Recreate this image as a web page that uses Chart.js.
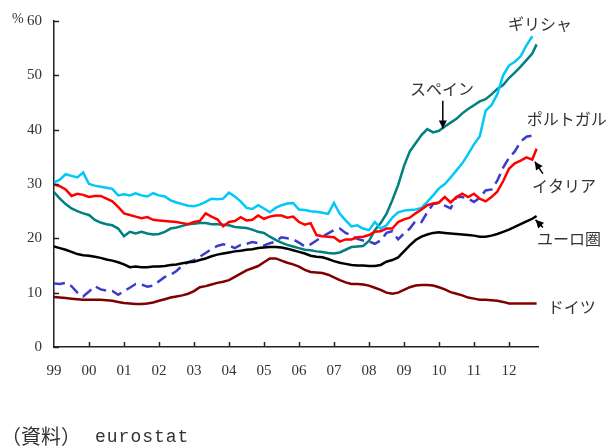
<!DOCTYPE html>
<html><head><meta charset="utf-8">
<script src="https://cdn.jsdelivr.net/npm/chart.js@4.4.1/dist/chart.umd.min.js"></script>
<style>html,body{margin:0;padding:0;background:#fff;}</style>
</head><body>
<canvas id="c" width="609" height="448"></canvas>
<script>
// time axis: every two months from Jan 1999, last observation autumn 2012
const periods = [];
for (let k = 0; k < 83; k++) periods.push(1999 + k / 6);
periods.push(2012.79);

const yearTicks = [1999,2000,2001,2002,2003,2004,2005,2006,2007,2008,2009,2010,2011,2012];
const yearLabels = ['99','00','01','02','03','04','05','06','07','08','09','10','11','12'];
const yTicks = [0,10,20,30,40,50,60];

const greece = [30.3,30.8,31.8,31.5,31.2,32.1,30.0,29.7,29.5,29.3,29.1,27.9,
  28.1,27.9,28.3,27.9,27.7,28.3,27.9,27.7,27.0,26.6,26.3,26.0,
  25.9,26.2,26.7,27.3,27.2,27.3,28.4,27.7,26.8,25.6,25.4,26.1,
  25.5,24.8,25.6,26.1,26.4,26.5,25.3,25.2,25.0,24.9,24.7,24.5,
  26.5,24.5,23.3,22.2,22.4,21.8,21.5,23.0,21.8,22.4,23.8,24.8,
  25.1,25.2,25.3,25.6,26.7,27.9,29.2,30.0,31.2,32.5,33.8,35.5,
  37.3,38.8,43.5,44.5,46.5,50.0,51.8,52.5,53.5,55.5,57.2,null];
const spain = [28.5,27.3,26.3,25.5,25.0,24.6,24.3,23.4,22.9,22.6,22.4,21.8,
  20.4,21.2,20.9,21.2,20.9,20.7,20.8,21.2,21.8,22.0,22.3,22.6,
  22.7,22.8,22.8,22.6,22.6,22.5,22.4,22.1,22.0,21.9,21.6,21.2,
  21.0,20.3,19.7,19.2,18.8,18.5,18.2,17.9,17.8,17.6,17.5,17.3,
  17.2,17.4,17.9,18.4,18.5,18.6,19.5,21.5,22.8,24.5,27.0,29.8,
  33.3,36.0,37.5,39.0,40.1,39.5,39.8,40.6,41.3,42.0,43.0,43.8,
  44.5,45.2,45.6,46.5,47.5,48.2,49.5,50.5,51.6,52.8,54.0,55.7];
const italy = [29.9,29.6,29.0,27.8,28.2,28.0,27.6,27.8,27.8,27.3,26.8,25.8,
  24.6,24.3,24.0,23.7,23.9,23.4,23.3,23.2,23.1,23.0,22.8,22.6,
  23.0,23.2,24.6,24.0,23.5,22.2,23.0,23.2,23.9,23.3,23.4,24.2,
  23.6,24.0,24.2,24.2,23.8,24.0,23.0,22.5,22.8,20.6,20.4,20.3,
  20.2,19.4,19.8,19.8,20.2,20.3,20.6,21.2,21.3,21.8,21.8,23.0,
  23.5,23.8,24.6,25.3,26.1,26.4,26.6,27.6,26.6,27.6,28.2,27.6,
  28.2,27.3,26.8,27.6,28.6,30.5,32.8,33.8,34.3,34.9,34.5,36.5];
const portugal = [11.7,11.6,11.8,11.2,10.0,9.3,10.2,11.2,10.6,10.4,10.3,9.6,
  10.3,10.9,11.6,11.5,11.1,11.3,12.1,12.9,13.3,14.0,15.0,15.6,
  16.0,16.6,17.3,18.0,18.6,18.9,18.7,18.2,18.8,19.0,19.3,19.1,
  18.7,19.1,19.4,20.2,20.0,19.8,19.2,18.5,18.9,19.6,20.3,20.9,
  21.5,21.8,21.0,20.5,19.9,19.6,19.4,19.0,19.6,21.0,21.3,19.8,
  20.9,21.8,23.2,23.0,24.8,26.3,26.5,26.0,25.5,27.6,27.6,27.3,
  26.7,27.5,28.8,29.0,30.6,33.0,34.8,36.0,37.8,38.7,38.9,38.9];
const euroArea = [18.5,18.2,17.9,17.5,17.1,16.9,16.8,16.6,16.4,16.1,15.9,15.6,
  15.2,14.7,14.8,14.7,14.7,14.8,14.8,14.9,15.1,15.2,15.4,15.6,
  15.7,16.0,16.3,16.7,17.0,17.2,17.4,17.6,17.7,17.9,18.0,18.2,
  18.3,18.4,18.4,18.3,18.1,17.8,17.5,17.2,16.8,16.6,16.5,16.2,
  15.8,15.5,15.3,15.1,15.0,15.0,14.9,14.9,15.1,15.7,16.0,16.5,
  17.6,18.7,19.7,20.3,20.7,21.0,21.1,21.0,20.9,20.8,20.7,20.6,
  20.5,20.3,20.3,20.5,20.8,21.2,21.6,22.1,22.6,23.1,23.6,24.1];
const germany = [9.2,9.1,9.0,8.9,8.8,8.7,8.7,8.7,8.7,8.6,8.5,8.3,
  8.1,8.0,7.9,7.9,8.0,8.2,8.5,8.8,9.1,9.3,9.5,9.8,
  10.3,11.0,11.2,11.5,11.8,12.0,12.3,12.9,13.5,14.1,14.5,14.9,
  15.6,16.3,16.3,15.9,15.5,15.2,14.8,14.2,13.8,13.7,13.6,13.3,
  12.8,12.3,11.9,11.6,11.6,11.5,11.3,10.9,10.5,10.0,9.8,10.0,
  10.5,11.0,11.3,11.4,11.4,11.3,11.0,10.6,10.1,9.8,9.5,9.1,
  8.9,8.7,8.7,8.6,8.5,8.3,8.0,8.0,8.0,8.0,8.0,8.0];

const toXY = arr => periods.map((t, i) => ({x: t, y: arr[i]}));

const labelFont = '"Noto Sans CJK JP", sans-serif';
const numFont = '"Liberation Serif", "DejaVu Serif", serif';

const annotations = {
  id: 'annotations',
  afterDraw(chart) {
    const {ctx, chartArea} = chart;
    const xs = chart.scales.x, ys = chart.scales.y;
    const X = v => xs.getPixelForValue(v), Y = v => ys.getPixelForValue(v);
    ctx.save();
    // tick marks (inside)
    ctx.strokeStyle = '#222'; ctx.lineWidth = 1.5;
    yTicks.forEach(v => { const py = Math.round(Y(v)) + 0.5; ctx.beginPath(); ctx.moveTo(chartArea.left, py); ctx.lineTo(chartArea.left + 5, py); ctx.stroke(); });
    yearTicks.forEach(v => { if (v === 1999) return; const px = Math.round(X(v)) + 0.5; ctx.beginPath(); ctx.moveTo(px, chartArea.bottom); ctx.lineTo(px, chartArea.bottom - 5); ctx.stroke(); });
    // percent sign
    ctx.fillStyle = '#333';
    ctx.font = '14px ' + numFont;
    ctx.textBaseline = 'middle'; ctx.textAlign = 'left';
    ctx.fillText('%', 12, Y(60) - 2);
    // series labels
    ctx.font = '16px ' + labelFont;
    ctx.fillStyle = '#333';
    ctx.fillText('ギリシャ', X(2011.97), Y(59.4));
    ctx.fillText('スペイン', X(2009.17), Y(47.5));
    ctx.fillText('ポルトガル', X(2012.51), Y(42.0));
    ctx.fillText('イタリア', X(2012.66), Y(29.7));
    ctx.fillText('ユーロ圏', X(2012.80), Y(19.8));
    ctx.fillText('ドイツ', X(2013.11), Y(7.3));
    // arrows
    const arrow = (x1, y1, x2, y2) => {
      ctx.strokeStyle = '#000'; ctx.fillStyle = '#000'; ctx.lineWidth = 1.5;
      ctx.beginPath(); ctx.moveTo(x1, y1); ctx.lineTo(x2, y2); ctx.stroke();
      const a = Math.atan2(y2 - y1, x2 - x1), L = 8, W = 4;
      ctx.beginPath();
      ctx.moveTo(x2, y2);
      ctx.lineTo(x2 - L * Math.cos(a) + W * Math.sin(a), y2 - L * Math.sin(a) - W * Math.cos(a));
      ctx.lineTo(x2 - L * Math.cos(a) - W * Math.sin(a), y2 - L * Math.sin(a) + W * Math.cos(a));
      ctx.closePath(); ctx.fill();
    };
    arrow(X(2010.11), Y(45.3), X(2010.11), Y(40.2));
    arrow(X(2012.97), Y(31.9), X(2012.74), Y(34.1));
    arrow(X(2012.97), Y(22.0), X(2012.76), Y(23.4));
    // source
    ctx.fillStyle = '#333';
    ctx.font = '20px ' + labelFont;
    ctx.textAlign = 'left'; ctx.textBaseline = 'middle';
    ctx.fillText('（資料）', 1, 436);
    ctx.font = '18px "Liberation Mono", monospace';
    ctx.letterSpacing = '1px';
    ctx.fillText('eurostat', 95, 437);
    ctx.restore();
  }
};

const ds = (label, arr, color, extra) => Object.assign({
  label, data: toXY(arr), borderColor: color, backgroundColor: color,
  borderWidth: 2.5, pointRadius: 0, tension: 0, fill: false, spanGaps: false
}, extra || {});

new Chart(document.getElementById('c'), {
  type: 'line',
  data: {
    datasets: [
      ds('ユーロ圏', euroArea, '#000000'),
      ds('イタリア', italy, '#ff0000'),
      ds('ギリシャ', greece, '#00c8f8'),
      ds('スペイン', spain, '#008080'),
      ds('ポルトガル', portugal, '#3c3ccc', {borderDash: [11, 6]}),
      ds('ドイツ', germany, '#800000')
    ]
  },
  options: {
    responsive: false,
    animation: false,
    devicePixelRatio: 1,
    layout: {padding: {top: 20, right: 71, left: 0, bottom: 0}},
    plugins: {legend: {display: false}, tooltip: {enabled: false}},
    scales: {
      x: {
        type: 'linear', min: 1999, max: 2012.83,
        grid: {display: false, drawTicks: false},
        border: {display: true, color: '#222', width: 1.5},
        afterBuildTicks: s => { s.ticks = yearTicks.map(v => ({value: v})); },
        afterFit: s => { s.height = 101; },
        ticks: {
          color: '#333', font: {family: numFont, size: 15}, padding: 15,
          maxRotation: 0, autoSkip: false,
          callback: v => yearLabels[yearTicks.indexOf(v)]
        }
      },
      y: {
        min: 0, max: 60,
        grid: {display: false, drawTicks: false},
        border: {display: true, color: '#222', width: 1.5},
        afterBuildTicks: s => { s.ticks = yTicks.map(v => ({value: v})); },
        afterFit: s => { s.width = 54; },
        ticks: {color: '#333', font: {family: numFont, size: 15}, padding: 12}
      }
    }
  },
  plugins: [annotations]
});
</script>
</body></html>
